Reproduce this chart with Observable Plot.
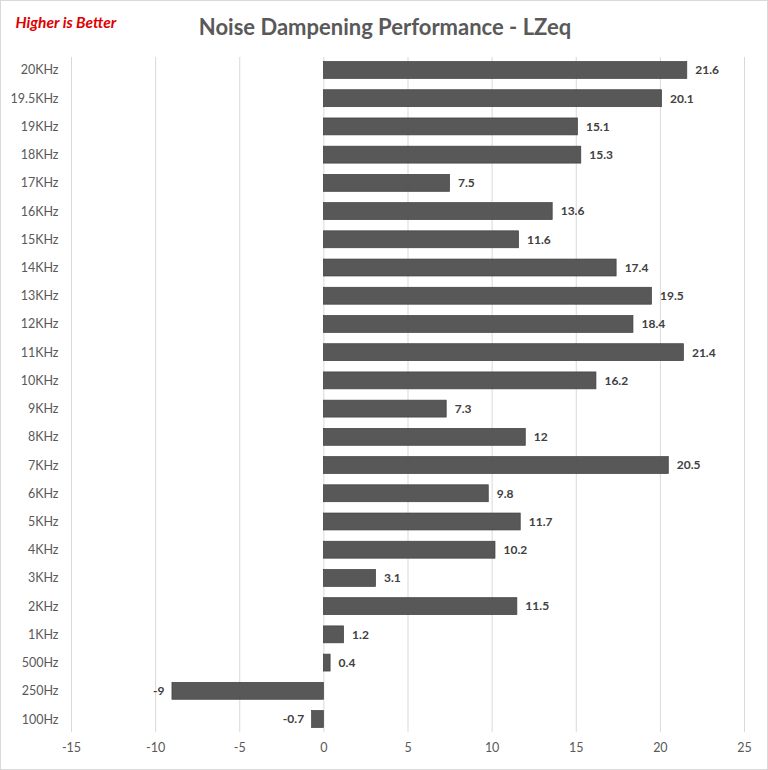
<!DOCTYPE html>
<html>
<head>
<meta charset="utf-8">
<script src="https://cdn.jsdelivr.net/npm/d3@7"></script>
<script src="https://cdn.jsdelivr.net/npm/@observablehq/plot@0.6"></script>
<style>
  body { margin: 0; background: #fff; }
  #chart svg { display: block; outline: 1px solid #d9d9d9; outline-offset: -1px; }
</style>
</head>
<body>
<div id="chart"></div>
<script>
const categories = ["20KHz","19.5KHz","19KHz","18KHz","17KHz","16KHz","15KHz","14KHz","13KHz","12KHz","11KHz","10KHz","9KHz","8KHz","7KHz","6KHz","5KHz","4KHz","3KHz","2KHz","1KHz","500Hz","250Hz","100Hz"];
const values = [21.6,20.1,15.1,15.3,7.5,13.6,11.6,17.4,19.5,18.4,21.4,16.2,7.3,12,20.5,9.8,11.7,10.2,3.1,11.5,1.2,0.4,-9,-0.7];
const xTicks = [-15,-10,-5,0,5,10,15,20,25];
const title = "Noise Dampening Performance - LZeq";
const note = "Higher is Better";

const data = categories.map((c, i) => ({cat: c, v: values[i]}));
const font = "Lato, 'Open Sans', sans-serif";

const chart = Plot.plot({
  width: 768,
  height: 770,
  marginLeft: 71,
  marginRight: 24,
  marginTop: 57,
  marginBottom: 38,
  style: {fontFamily: font, background: "#fff"},
  x: {domain: [-15, 25], ticks: xTicks, label: null, tickSize: 0, tickPadding: 11},
  y: {domain: categories, label: null, paddingInner: 0.4, paddingOuter: 0.16, round: false, tickSize: 0, tickPadding: 13},
  marks: [
    Plot.gridX(xTicks, {stroke: "#d9d9d9", strokeOpacity: 1}),
    Plot.barX(data, {x: "v", y: "cat", fill: "#4f4f4f", fillOpacity: 0.95, stroke: "#3f3f3f", strokeWidth: 0.7}),
    Plot.text(data.filter(d => d.v >= 0), {x: "v", y: "cat", text: d => String(d.v), dx: 8, textAnchor: "start", fontWeight: "bold", fontSize: 12, fill: "#404040"}),
    Plot.text(data.filter(d => d.v < 0), {x: "v", y: "cat", text: d => String(d.v), dx: -8, textAnchor: "end", fontWeight: "bold", fontSize: 12, fill: "#404040"}),
    Plot.axisX({ticks: xTicks, tickSize: 0, tickPadding: 11, fontSize: 12.5, fill: "#595959", tickFormat: d => String(d)}),
    Plot.axisY({tickSize: 0, tickPadding: 13, fontSize: 12.5, fill: "#595959"}),
    Plot.text([title], {frameAnchor: "top", dx: -23, dy: -38, fontSize: 22, fontWeight: "bold", fill: "#595959"}),
    Plot.text([note], {frameAnchor: "top-left", dx: -56, dy: -41, textAnchor: "start", fontSize: 15.5, fontWeight: "bold", fontStyle: "italic", fill: "#e00000"})
  ]
});
document.getElementById("chart").append(chart);
</script>
</body>
</html>
